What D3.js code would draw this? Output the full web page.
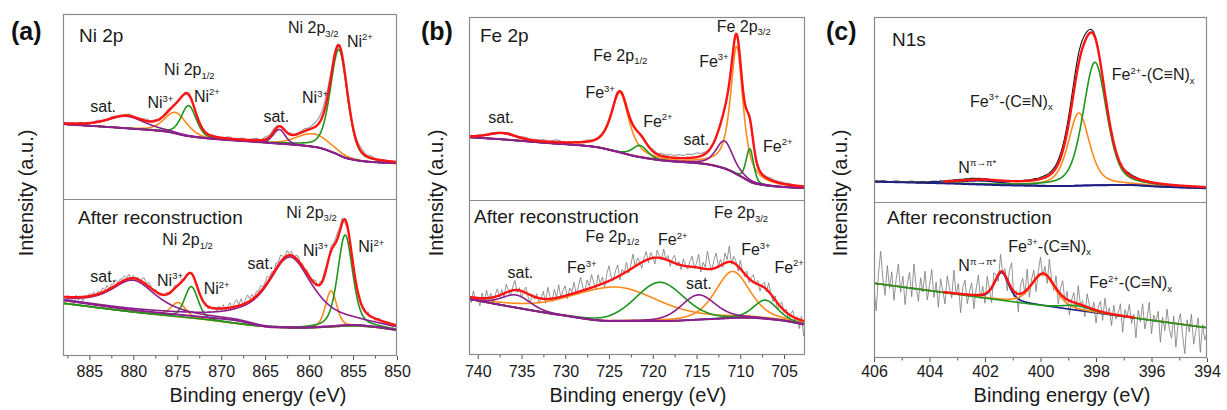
<!DOCTYPE html>
<html>
<head>
<meta charset="utf-8">
<script src="https://cdn.jsdelivr.net/npm/d3@7"></script>
<style>
  body { margin: 0; background: #fff; }
  svg { display: block; font-family: "Liberation Sans", Arial, Helvetica, sans-serif; }
</style>
</head>
<body>
<svg id="chart" width="1227" height="410"></svg>
<script>
// ---------- axis ticks ----------
const niTicks = [885, 880, 875, 870, 865, 860, 855, 850];
const niMinor = [887.5, 882.5, 877.5, 872.5, 867.5, 862.5, 857.5, 852.5];
const feTicks = [740, 735, 730, 725, 720, 715, 710, 705];
const feMinor = [737.5, 732.5, 727.5, 722.5, 717.5, 712.5, 707.5];
const nTicks = [406, 404, 402, 400, 398, 396, 394];
const nMinor = [405, 403, 401, 399, 397, 395];

// ---------- backgrounds: [binding energy eV, intensity a.u.] ----------
const niTopBase = [[888,40.5],[880.75,38.2],[876.2,36.4],[873.9,34.1],[871.65,32.8],[864.8,30.4],[859.1,27.9],[857.2,25.0],[855.7,22.0],[853.4,20.2],[850,19.3]];
const niBotBase = [[888,35.5],[880,29.3],[872.4,25.0],[868.6,22.9],[864.1,18.3],[861,18.0],[858,18.7],[855,19.7],[852.7,18.7],[850,16.6]];
const niBotBase2 = [[888,33.6],[880,28.0],[872.4,23.6],[864.5,18.6],[861,17.8],[858,18.4],[855,19.2],[852.7,18.4],[850,16.4]];
const feTopBase = [[741,34.3],[737.45,33.2],[732.5,31.3],[726.75,29.1],[724.1,26.4],[721.8,23.7],[718.7,21.5],[714.1,19.7],[711.85,17.3],[709.9,12.8],[708.4,9.1],[705.7,7.3],[702.4,6.4]];
const feBotBase = [[741,36.1],[736.3,31.2],[730.6,25.8],[724.8,21.9],[719.1,21.9],[713.3,23.2],[709.5,24.1],[705.7,22.6],[702.4,19.4]];
const nTopBase = [[406,11.0],[403.5,10.1],[401.1,9.0],[399.3,8.6],[398.1,9.0],[396.9,9.2],[395.7,8.3],[394,7.4]];
const nBotBase = [[406,47.9],[394,19.4]];

// ---------- fitted components: [species, centre eV, height, FWHM eV, Lorentzian fraction] ----------
const niTopPeaks = [["sat",880.8,6.5,5.0,0.5],["M3",875.2,11.3,3.0,0.3],["M2",873.7,16.5,2.0,0.3],["sat",863.4,7.7,1.6,0.3],["M3",859.5,7.0,4.5,0.2],["M2",856.6,57,2.3,0.35]];
const niBotPeaks = [["sat",880.0,19,6.0,0.7],["M3",874.9,9,2.0,0.3],["M2",873.4,20,1.8,0.3],["sat",862.2,45,6.2,0.75],["M3",857.5,23,1.5,0.3],["M2",855.9,58,2.0,0.4]];
const feTopPeaks = [["sat",737.2,3.3,3.8,0.3],["M3",723.75,32.8,2.4,0.7],["M2",721.45,6.4,2.0,0.3],["sat",711.8,15,2.3,0.5],["M3",710.4,70,1.7,0.8],["M2",708.9,18,1.0,0.3]];
const feBotPeaks = [["sat",735.6,8.2,3.8,0.3],["M3",724.4,22,12,0.3],["M2",719.2,25,6.5,0.2],["sat",714.8,16,4.6,0.3],["M3",710.9,30,4.6,0.4],["M2",707.1,12,3.2,0.3]];
const nTopPeaks = [["pi",402.1,2,2.0,0.5],["M3",398.62,39.3,0.9,0.5],["M2",398.04,66.5,1.0,0.4]];
const nBotPeaks = [["pi",401.4,17.7,0.6,0.5],["M3",399.9,20.2,1.0,0.4],["M2",398.7,3,1.2,0.3]];

// ---------- measured-minus-fit residuals, evenly spaced from the high-energy end ----------
const niTopResid = [0.3,-0.4,0.5,-0.2,0.6,0.1,-0.5,0.4,0.8,0.2,-0.3,0.7,0.5,-0.4,0.3,0.9,
  0.4,-0.2,0.6,1.1,0.3,0.8,-0.6,0.5,1.2,0.4,-0.3,0.2,-0.8,-0.5,0.4,0.6,
  0.2,-0.4,0.7,0.1,-0.6,0.5,0.9,-0.3,0.4,0.8,-0.2,0.6,1.0,0.3,1.4,0.9,
  1.6,0.5,-0.7,0.3,0.8,-0.4,0.6,1.2,0.9,2.0,2.8,3.6,4.2,2.4,0.8,-0.6,
  -1.2,-2.0,0.6,1.5,1.8,0.9,1.2,0.4,-0.3,0.5,-0.6,-1.0,-0.4];
const niBotResid = [-1.5,-4.8,0.8,-3.2,-0.6,-5.1,1.2,-2.0,-0.4,-2.8,0.5,-1.1,1.6,
  0.3,2.1,-0.8,1.9,0.4,2.8,1.0,3.1,-0.2,2.4,1.7,3.5,0.6,2.2,1.4,2.9,
  0.9,2.6,-0.5,1.8,0.2,1.3,-0.9,2.0,3.2,0.8,2.7,1.1,-0.6,1.5,0.3,-1.2,
  0.6,-0.9,1.4,0.2,-1.1,0.9,1.8,-0.4,0.7,1.9,-0.3,1.2,0.4,-0.8,0.5,-1.3,
  0.2,-1.0,0.8,-0.6,1.1,-1.4,0.3,-0.7,0.9,-1.8,1.5,-0.9,2.4,-2.0,1.2,3.1,
  -1.5,2.8,4.2,0.6,3.9,-0.8,2.5,4.6,1.3,3.4,-0.2,2.9,1.6,3.8,0.9,2.4,
  4.1,1.2,2.7,0.3,3.6,1.8,4.4,2.1,0.5,3.3,1.0,2.6,-0.7,1.9,2.8,0.4,
  1.7,-0.6,2.2,0.9,-1.1,1.4,2.5,-0.3,1.8,0.6,2.9,1.2,-0.8,3.4,1.5,2.7,
  4.0,2.2,3.1,-1.6,-2.4,0.8,-1.2,1.1,-0.6,0.9,1.7,-0.5,1.3,0.2,1.9,-0.9,
  0.8,-1.3,0.4,1.2,-0.7,0.6,-1.5,0.9,-0.4,-2.2,0.3,-1.8];
const feTopResid = [0.4,-0.3,0.5,0.2,-0.4,0.6,0.1,-0.5,0.3,0.8,0.4,-0.2,0.6,0.9,0.3,0.7,
  0.5,1.0,0.4,0.8,1.2,0.6,-0.3,0.5,0.2,-0.4,0.3,0.9,0.4,-0.2,0.6,0.1,
  -0.5,0.4,0.8,-0.6,0.2,0.7,-0.3,0.5,0.9,0.3,1.1,0.6,1.4,0.9,1.6,1.2,
  1.9,1.4,2.1,1.7,2.3,1.5,1.0,0.4,-0.8,0.6,-0.5,0.3,-1.2,0.8,1.5,0.4,
  -0.6,0.9,1.3,0.5,0.8,1.1,0.6,0.9,0.4,0.7,0.3,-0.2,0.5,0.2];
const feBotResid = [2.1,-3.5,4.2,-1.8,0.6,-4.9,3.3,-2.2,5.1,-0.7,2.8,-3.9,1.4,4.6,-1.2,3.0,
  -2.6,5.4,0.9,-3.1,2.3,6.2,-1.5,1.8,-4.4,0.4,3.7,-2.0,-5.2,1.1,-1.6,2.5,
  -3.3,0.2,4.8,-2.7,7.5,1.6,-1.9,5.8,0.3,8.2,-0.8,3.9,6.4,-2.4,4.1,1.0,
  7.1,-1.3,3.5,9.0,2.2,-0.5,5.9,1.4,8.4,3.0,-2.1,6.8,0.5,4.3,-3.0,5.2,
  9.8,1.9,-1.0,4.7,7.6,-2.8,3.2,0.1,6.0,-1.7,2.9,8.8,-0.4,4.5,1.3,-3.6,
  2.0,5.5,-2.3,3.8,0.7,-4.1,4.9,1.5,-1.1,6.3,-0.2,3.1,-3.4,2.4,5.0,-1.4,
  1.9,-2.9,4.4,0.8,-1.8,3.6,6.9,-0.9,2.7,8.7,-2.5,4.0,1.2,11.5,3.4,-1.0,
  5.6,9.4,0.6,3.8,-2.0,6.5,1.7,10.2,-1.5,4.2,2.1,-3.2,5.3,0.4,-1.9,3.3,
  -2.6,1.8,4.6,-0.6,2.4,-3.8,0.9,3.5,-1.7,5.7,0.2,-2.9,2.6,-4.5,1.0,3.9,
  -1.4,2.2,-3.6,0.5,4.1,-2.2,1.3,-5.8,2.7,-9.5,-3.0];
const nTopResid = [0.2,0.1,-0.1,0.3,0.2,0.0,-0.2,0.1,0.3,0.2,0.0,0.1,-0.1,0.2,0.3,0.1,0.0,0.2,0.1,-0.1,
  0.0,0.2,0.3,0.1,0.4,0.2,0.3,0.5,0.4,0.6,0.5,0.7,0.6,0.8,0.7,0.9,0.8,0.6,0.7,0.5,
  0.4,0.3,0.1,0.0,-0.2,-0.1,-0.3,-0.2,0.0,0.1,-0.1,0.2,0.3,0.2,0.4,0.5,0.4,0.6,0.8,0.7,
  0.9,1.0,1.1,1.2,1.4,1.6,1.9,2.3,2.8,3.4,4.0,4.7,5.3,5.6,5.4,4.7,3.6,2.6,1.8,1.3,
  0.9,0.4,-0.2,-0.8,-1.3,-1.6,-1.4,-1.0,-0.5,0.0,0.4,0.7,0.9,0.8,0.6,0.5,0.3,0.2,0.4,0.3,
  0.1,0.0,0.2,-0.1,0.1,0.0,-0.2,0.1,0.2,0.0,-0.1,0.1,0.0,0.2,-0.1,0.0,0.1,-0.2,0.0,0.1,0.0];
const nBotResid = [-4.0,-17.5,6.2,21.0,3.5,-6.8,12.4,-2.1,8.7,-9.3,4.6,14.2,-3.7,6.9,-11.2,
  2.4,9.8,-5.5,15.6,1.2,-8.0,7.3,-1.6,11.9,-6.4,3.1,13.5,-4.2,5.8,-10.1,
  8.2,0.7,-7.6,10.6,2.9,-3.3,14.8,-0.9,6.5,-12.0,4.4,9.1,-5.9,1.8,7.7,
  -8.8,3.9,12.7,-2.6,5.2,-6.1,10.3,0.4,-9.7,6.8,2.2,-4.5,11.1,-1.3,4.0,
  -7.2,8.9,16.3,-3.8,1.5,-11.4,5.6,9.4,-2.0,13.0,-6.6,3.3,7.0,-8.5,2.6,
  10.8,-1.9,4.9,-5.0,12.2,0.8,-3.5,7.9,-7.9,3.6,9.9,-2.4,5.3,-9.1,1.0,
  6.3,-4.8,11.6,-0.5,3.0,-6.9,8.5,1.9,-3.0,4.7,-8.3,2.5,6.6,-5.3,9.2,
  -1.2,3.7,-7.4,5.9,-2.8,1.4,7.5,-10.6,4.3,-0.2,8.0,-4.0,2.1,-12.8,5.0,
  -2.2,9.6,-6.3,0.6,11.3,-8.7,3.4,-1.0,6.1,-13.5,2.8,-5.7,8.4,-3.9,-9.9,
  4.5,-15.2,0.1,6.7,-7.0,-18.6,3.2,-4.3,7.2,-11.8,-2.7,5.5,-16.4,1.6,-8.1,-3.2];

// ---------- peak annotations: [text, eV, intensity] ----------
const niTopLabels = [["Ni 2p_{1/2}",876.5,67],["Ni^{3+}",878.4,49],["Ni^{2+}",873.1,52.6],["sat.",884.9,47.2],["sat.",865.2,41.8],["Ni^{3+}",860.8,51.7],["Ni 2p_{3/2}",862.4,89.6],["Ni^{2+}",855.7,82.3]];
const niBotLabels = [["Ni 2p_{3/2}",862.6,88.1],["Ni 2p_{1/2}",876.7,70.7],["sat.",884.9,46.9],["Ni^{3+}",877.3,44.8],["Ni^{2+}",872.0,39.3],["sat.",867.0,55.4],["Ni^{3+}",860.7,63.9],["Ni^{2+}",854.4,66]];
const feTopLabels = [["Fe 2p_{1/2}",726.8,76],["Fe^{3+}",727.7,55.6],["Fe^{2+}",721.1,40],["sat.",738.8,41.9],["sat.",716.5,30],["Fe 2p_{3/2}",712.7,92],["Fe^{3+}",714.7,72.8],["Fe^{2+}",707.4,26.4]];
const feBotLabels = [["Fe 2p_{1/2}",727.7,73.1],["Fe^{2+}",719.4,71],["Fe 2p_{3/2}",713,88.2],["Fe^{3+}",709.9,64.5],["Fe^{2+}",706.1,53.1],["Fe^{3+}",729.8,52.7],["sat.",736.6,49.5],["sat.",716.2,42.4]];
const nTopLabels = [["Fe^{2+}-(C≡N)_{x}",397.43,65.9],["Fe^{3+}-(C≡N)_{x}",402.54,51.5],["N^{π→π*}",402.96,15.8]];
const nBotLabels = [["Fe^{3+}-(C≡N)_{x}",401.16,68.1],["N^{π→π*}",402.96,55.8],["Fe^{2+}-(C≡N)_{x}",398.24,44.7]];

// ---------- styling ----------
const COLORS = { sat: "#8b1f8b", M3: "#ff8a1c", M2: "#1e961e", pi: "#1f1f86", env: "#ff1414" };
const DRAW_ORDER = ["pi", "M3", "M2", "sat"];
const FRAME = "#8a8a8a";

const svg = d3.select("#chart");
const defs = svg.append("defs");

// pseudo-Voigt line shape
function pv(e, p) {
  const t = (e - p[1]) / p[3];
  return p[2] * (p[4] / (1 + 4 * t * t) + (1 - p[4]) * Math.exp(-4 * Math.LN2 * t * t));
}

// smooth monotone background through the control points
function monotone(points) {
  const pts = points.slice().sort((a, b) => a[0] - b[0]);
  const n = pts.length, xs = pts.map(d => d[0]), ys = pts.map(d => d[1]);
  const dx = [], m = [];
  for (let i = 0; i < n - 1; i++) { dx[i] = xs[i + 1] - xs[i]; m[i] = (ys[i + 1] - ys[i]) / dx[i]; }
  const t = [m[0]];
  for (let i = 1; i < n - 1; i++) {
    if (m[i - 1] * m[i] <= 0) t[i] = 0;
    else { const w1 = 2 * dx[i] + dx[i - 1], w2 = dx[i] + 2 * dx[i - 1]; t[i] = (w1 + w2) / (w1 / m[i - 1] + w2 / m[i]); }
  }
  t[n - 1] = m[n - 2];
  return e => {
    if (e <= xs[0]) return ys[0];
    if (e >= xs[n - 1]) return ys[n - 1];
    let i = d3.bisectRight(xs, e) - 1; if (i > n - 2) i = n - 2;
    const h = dx[i], s = (e - xs[i]) / h, s2 = s * s, s3 = s2 * s;
    return (2 * s3 - 3 * s2 + 1) * ys[i] + (s3 - 2 * s2 + s) * h * t[i] + (-2 * s3 + 3 * s2) * ys[i + 1] + (s3 - s2) * h * t[i + 1];
  };
}

// text with ^{superscript} and _{subscript} runs
function rich(sel, str, size, small) {
  const parts = str.split(/([\^_]\{[^}]*\})/).filter(s => s.length);
  let shift = 0;
  parts.forEach(p => {
    let target = 0, fs = size, txt = p;
    if (p[0] === "^") { target = -0.4 * size; fs = small; txt = p.slice(2, -1); }
    else if (p[0] === "_") { target = 0.22 * size; fs = small; txt = p.slice(2, -1); }
    sel.append("tspan").attr("dy", target - shift).attr("font-size", fs).text(txt);
    shift = target;
  });
}

const panels = [
  { dom: [888, 850], left: 63, right: 397, top: 14, mid: 199, bottom: 356, ticks: niTicks, minor: niMinor,
    letter: "(a)", letterX: 11, head: "Ni 2p", headX: 79, headY: 42, arX: 78, arY: 224, yTitleX: 33, xTitleX: 258 },
  { dom: [741, 702.6], left: 469, right: 805, top: 17, mid: 200, bottom: 355, ticks: feTicks, minor: feMinor,
    letter: "(b)", letterX: 421, head: "Fe 2p", headX: 480, headY: 42, arX: 474, arY: 223, yTitleX: 443, xTitleX: 638 },
  { dom: [406, 394], left: 874, right: 1207, top: 17, mid: 202, bottom: 358, ticks: nTicks, minor: nMinor,
    letter: "(c)", letterX: 826, head: "N1s", headX: 892, headY: 46, arX: 887, arY: 224, yTitleX: 847, xTitleX: 1062 }
];

const subs = [
  { p: 0, half: "top", base: niTopBase, peaks: niTopPeaks, resid: niTopResid, r0: 888, rStep: 0.5, smoothRaw: true, rawColor: "#9a9a9a", baseColor: COLORS.sat, labels: niTopLabels, step: 0.05 },
  { p: 0, half: "bot", base: niBotBase, base2: niBotBase2, peaks: niBotPeaks, resid: niBotResid, r0: 888, rStep: 0.25, smoothRaw: false, rawColor: "#7a7a7a", baseColor: COLORS.sat, labels: niBotLabels, step: 0.05 },
  { p: 1, half: "top", base: feTopBase, peaks: feTopPeaks, resid: feTopResid, r0: 741, rStep: 0.5, smoothRaw: true, rawColor: "#9a9a9a", baseColor: COLORS.sat, labels: feTopLabels, step: 0.05 },
  { p: 1, half: "bot", base: feBotBase, peaks: feBotPeaks, resid: feBotResid, r0: 741, rStep: 0.25, smoothRaw: false, rawColor: "#7a7a7a", baseColor: COLORS.sat, labels: feBotLabels, step: 0.05 },
  { p: 2, half: "top", base: nTopBase, peaks: nTopPeaks, resid: nTopResid, r0: 406, rStep: 0.1, smoothRaw: true, rawColor: "#111", baseColor: COLORS.pi, labels: nTopLabels, step: 0.02, envRange: [403.5, 394] },
  { p: 2, half: "bot", base: nBotBase, peaks: nBotPeaks, resid: nBotResid, r0: 406, rStep: 0.08, smoothRaw: false, rawColor: "#7a7a7a", baseColor: null, labels: nBotLabels, step: 0.02, envRange: [403.5, 396.6] }
];

panels.forEach(P => { P.x = d3.scaleLinear().domain(P.dom).range([P.left, P.right]); });

// ---------- spectra ----------
subs.forEach((S, si) => {
  const P = panels[S.p], x = P.x;
  const y0 = S.half === "top" ? P.mid : P.bottom;
  const y1 = S.half === "top" ? P.top : P.mid;
  const y = d3.scaleLinear().domain([0, 100]).range([y0, y1]);
  const clipId = "clip" + si;
  defs.append("clipPath").attr("id", clipId).append("rect")
    .attr("x", P.left).attr("y", y1).attr("width", P.right - P.left).attr("height", y0 - y1);
  const g = svg.append("g").attr("clip-path", `url(#${clipId})`).attr("fill", "none");

  const baseF = monotone(S.base);
  const base2F = S.base2 ? monotone(S.base2) : baseF;
  const hi = d3.max(P.dom), lo = d3.min(P.dom);
  const n = Math.round((hi - lo) / S.step);
  const grid = d3.range(n + 1).map(i => hi - i * (hi - lo) / n);
  const env = e => baseF(e) + d3.sum(S.peaks, p => pv(e, p));

  const smooth = d3.line().x(d => x(d[0])).y(d => y(d[1])).curve(d3.curveMonotoneX);
  const rawLine = d3.line().x(d => x(d[0])).y(d => y(d[1]))
    .curve(S.smoothRaw ? d3.curveCatmullRom : d3.curveLinear);

  // measured spectrum
  const raw = S.resid.map((r, i) => { const e = S.r0 - i * S.rStep; return [e, env(e) + r]; });
  g.append("path").attr("d", rawLine(raw)).attr("stroke", S.rawColor)
    .attr("stroke-width", S.smoothRaw ? 1.1 : 0.8);

  // individual components on the background
  const comps = S.peaks.slice().sort((a, b) => DRAW_ORDER.indexOf(a[0]) - DRAW_ORDER.indexOf(b[0]));
  comps.forEach(p => {
    const bf = (p[0] === "M2" || p[0] === "M3") ? base2F : baseF;
    g.append("path").attr("d", smooth(grid.map(e => [e, bf(e) + pv(e, p)])))
      .attr("stroke", COLORS[p[0]]).attr("stroke-width", 1.6);
  });

  // background
  if (S.baseColor) {
    g.append("path").attr("d", smooth(grid.map(e => [e, baseF(e)])))
      .attr("stroke", S.baseColor).attr("stroke-width", 2);
  }

  // fit envelope
  const eg = S.envRange ? grid.filter(e => e <= S.envRange[0] && e >= S.envRange[1]) : grid;
  g.append("path").attr("d", smooth(eg.map(e => [e, env(e)])))
    .attr("stroke", COLORS.env).attr("stroke-width", 2.4);

  // annotations
  S.labels.forEach(L => {
    const t = svg.append("text").attr("x", x(L[1])).attr("y", y(L[2])).attr("fill", "#1a1a1a");
    rich(t, L[0], 16, 9.5);
  });
});

// ---------- frames, axes, titles ----------
panels.forEach(P => {
  const g = svg.append("g");
  g.append("rect").attr("x", P.left + 0.5).attr("y", P.top + 0.5)
    .attr("width", P.right - P.left - 1).attr("height", P.bottom - P.top - 1)
    .attr("fill", "none").attr("stroke", FRAME).attr("stroke-width", 1.2);
  g.append("line").attr("x1", P.left).attr("x2", P.right).attr("y1", P.mid + 0.5).attr("y2", P.mid + 0.5)
    .attr("stroke", FRAME).attr("stroke-width", 1.2);

  const ax = g.append("g").attr("transform", `translate(0,${P.bottom})`)
    .call(d3.axisBottom(P.x).tickValues(P.ticks).tickSize(4).tickSizeOuter(0).tickFormat(d3.format("d")));
  ax.select(".domain").remove();
  ax.selectAll(".tick line").attr("stroke", "#555");
  ax.selectAll(".tick text").attr("y", 376.5 - P.bottom).attr("dy", 0)
    .attr("font-size", 16).attr("font-family", '"Liberation Sans", Arial, sans-serif').attr("fill", "#1a1a1a");

  const mx = g.append("g").attr("transform", `translate(0,${P.bottom})`)
    .call(d3.axisBottom(P.x).tickValues(P.minor).tickSize(2.5).tickSizeOuter(0).tickFormat(""));
  mx.select(".domain").remove();
  mx.selectAll(".tick line").attr("stroke", "#555");

  g.append("text").attr("x", P.xTitleX).attr("y", 401.5).attr("text-anchor", "middle")
    .attr("font-size", 20).attr("fill", "#1a1a1a").text("Binding energy (eV)");
  g.append("text").attr("transform", `translate(${P.yTitleX},193) rotate(-90)`).attr("text-anchor", "middle")
    .attr("font-size", 20).attr("fill", "#1a1a1a").text("Intensity (a.u.)");
  g.append("text").attr("x", P.letterX).attr("y", 39.5).attr("font-size", 25).attr("font-weight", "bold")
    .attr("fill", "#111").text(P.letter);
  g.append("text").attr("x", P.headX).attr("y", P.headY).attr("font-size", 19).attr("fill", "#1a1a1a").text(P.head);
  g.append("text").attr("x", P.arX).attr("y", P.arY).attr("font-size", 19).attr("fill", "#1a1a1a").text("After reconstruction");
});
</script>
</body>
</html>
